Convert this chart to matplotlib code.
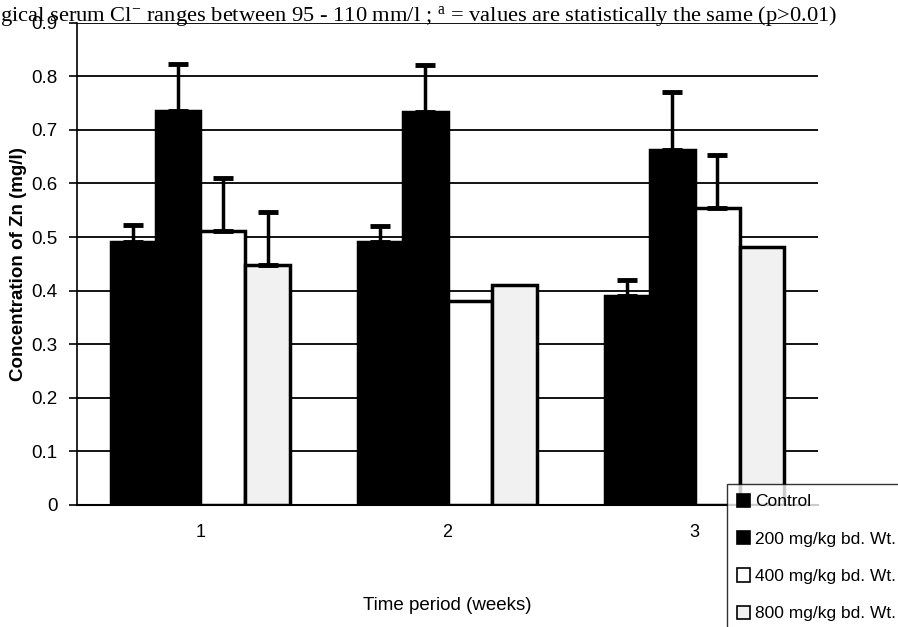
import numpy as np
import matplotlib
matplotlib.use("Agg")
import matplotlib.pyplot as plt
from matplotlib.patches import Patch

plt.rcParams["mathtext.fontset"] = "custom"
plt.rcParams["mathtext.rm"] = "Liberation Serif"
plt.rcParams["mathtext.it"] = "Liberation Serif:italic"

weeks = ["1", "2", "3"]
series = ["Control", "200 mg/kg bd. Wt.", "400 mg/kg bd. Wt.", "800 mg/kg bd. Wt."]
control = [0.49, 0.49, 0.39]
dose200 = [0.735, 0.733, 0.662]
dose400 = [0.512, 0.38, 0.554]
dose800 = [0.447, 0.41, 0.481]
err_control = [0.032, 0.031, 0.029]
err200 = [0.087, 0.088, 0.108]
err400 = [0.099, np.nan, 0.10]
err800 = [0.10, np.nan, np.nan]
yticks = [0, 0.1, 0.2, 0.3, 0.4, 0.5, 0.6, 0.7, 0.8, 0.9]

values = [control, dose200, dose400, dose800]
errors = [err_control, err200, err400, err800]
faces = ["black", "black", "white", "#f1f1f1"]

sans = ["Liberation Sans", "DejaVu Sans"]

fig = plt.figure(figsize=(8.98, 6.27), dpi=100)
ax = fig.add_axes([0.0857, 0.1946, 0.911 - 0.0857, 0.9638 - 0.1946])

x = np.arange(1, len(weeks) + 1)
w = 0.182
for i, (vals, errs, fc) in enumerate(zip(values, errors, faces)):
    pos = x + (i - 1.5) * w
    ax.bar(pos, vals, width=w, color=fc, edgecolor="black", linewidth=2.5, zorder=3)
    e = np.array(errs)
    m = ~np.isnan(e)
    if m.any():
        v = np.array(vals)
        ax.errorbar(pos[m], v[m], yerr=[np.zeros(m.sum()), e[m]], fmt="none",
                    ecolor="black", elinewidth=2.5, capsize=7, capthick=3.5, zorder=4)

ax.set_xlim(0.5, 3.5)
ax.set_ylim(0, 0.9)
ax.set_yticks(yticks)
ax.set_yticklabels(["0" if t == 0 else f"{t:.1f}" for t in yticks], family=sans, fontsize=13.5)
ax.set_xticks(x)
ax.set_xticklabels(weeks, family=sans, fontsize=13)
ax.tick_params(axis="x", length=0, pad=14)
ax.tick_params(axis="y", length=6, width=1.2, direction="out", pad=8)
ax.yaxis.grid(True, color="black", linewidth=1.3, zorder=0)
ax.set_axisbelow(True)
for s in ["top", "right"]:
    ax.spines[s].set_visible(False)
ax.spines["left"].set_linewidth(1.2)
ax.spines["bottom"].set_linewidth(1.5)

ax.set_ylabel("Concentration of Zn (mg/l)", family=sans, fontsize=13.5, fontweight="bold", labelpad=3)
ax.set_xlabel("Time period (weeks)", family=sans, fontsize=13.5, labelpad=40)

fig.text(0.0, 1 - 21 / 627,
         "gical serum Cl$^{\\mathrm{-}}$ ranges between 95 - 110 mm/l ; $^{\\mathrm{a}}$ = values are statistically the same (p>0.01)",
         family=["Liberation Serif", "DejaVu Serif"], fontsize=16.2, ha="left", va="baseline")

handles = [Patch(facecolor=fc, edgecolor="black", linewidth=1.2) for fc in faces]
leg = fig.legend(handles, series, loc="upper left", bbox_to_anchor=(727 / 898, 1 - 484 / 627),
                 frameon=True, fancybox=False, edgecolor="black", prop={"family": sans, "size": 12.5},
                 handlelength=0.8, handleheight=0.8, handletextpad=0.25, labelspacing=1.25,
                 borderpad=0.55, borderaxespad=0)
leg.get_frame().set_linewidth(1.0)

fig.savefig("out.png", dpi=100)
